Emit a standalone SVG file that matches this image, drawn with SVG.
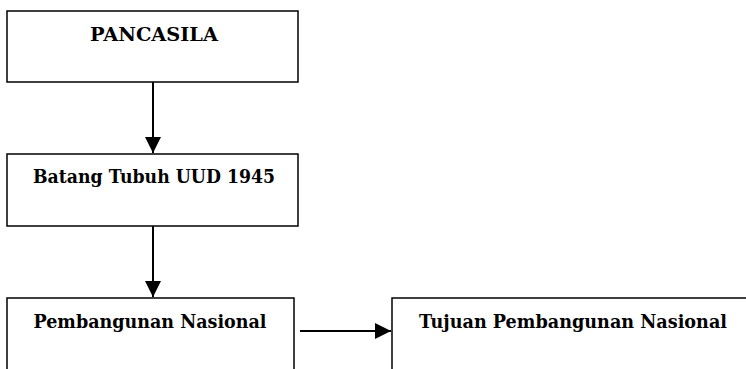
<svg xmlns="http://www.w3.org/2000/svg" width="746" height="369" viewBox="0 0 746 369">
<defs>
<style>
.box{fill:#fff;stroke:#000;stroke-width:1.5}
.lbl{font-family:"DejaVu Serif","Liberation Serif",serif;font-weight:bold;font-size:19px;fill:#000;text-anchor:middle}
.conn{stroke:#000;stroke-width:2;fill:none}
</style>
<marker id="av" markerWidth="16" markerHeight="16" refX="16" refY="8" orient="auto" markerUnits="userSpaceOnUse">
<path d="M0,0 L16,8 L0,16 Z" fill="#000"/>
</marker>
</defs>
<rect width="746" height="369" fill="#fff"/>
<g id="pancasila">
<rect class="box" x="7" y="11" width="291" height="71"/>
<text class="lbl" x="154" y="41" textLength="128" lengthAdjust="spacingAndGlyphs">PANCASILA</text>
</g>
<g id="batang-tubuh">
<rect class="box" x="7" y="154" width="291" height="72"/>
<text class="lbl" x="154" y="183" textLength="242" lengthAdjust="spacingAndGlyphs">Batang Tubuh UUD 1945</text>
</g>
<g id="pembangunan-nasional">
<rect class="box" x="7" y="298" width="287" height="90"/>
<text class="lbl" x="150" y="328" textLength="233" lengthAdjust="spacingAndGlyphs">Pembangunan Nasional</text>
</g>
<g id="tujuan-pembangunan-nasional">
<rect class="box" x="392" y="298" width="370" height="90"/>
<text class="lbl" x="573" y="328" textLength="308" lengthAdjust="spacingAndGlyphs">Tujuan Pembangunan Nasional</text>
</g>
<g id="connectors">
<line class="conn" x1="153" y1="82" x2="153" y2="153" marker-end="url(#av)"/>
<line class="conn" x1="153" y1="226" x2="153" y2="297" marker-end="url(#av)"/>
<line class="conn" x1="300" y1="331" x2="391" y2="331" marker-end="url(#av)"/>
</g>
</svg>
